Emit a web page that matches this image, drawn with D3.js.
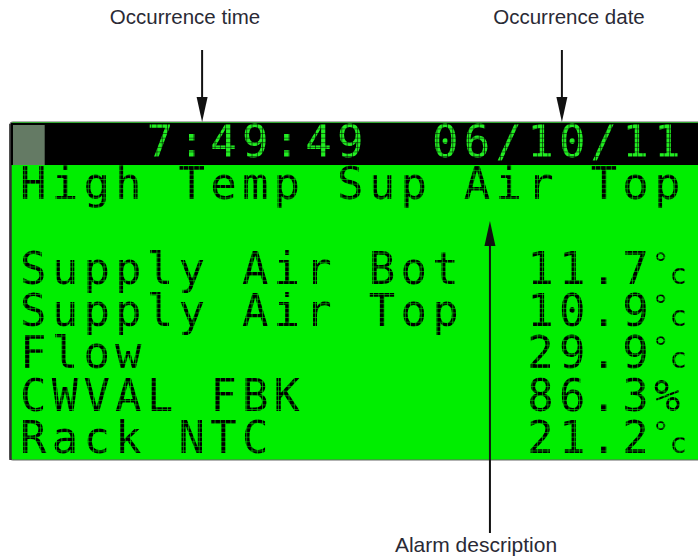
<!DOCTYPE html>
<html>
<head>
<meta charset="utf-8">
<script src="https://cdn.jsdelivr.net/npm/d3@7"></script>
<style>
  html, body { margin: 0; padding: 0; background: #fff; }
  svg { display: block; }
</style>
</head>
<body>
<svg id="chart" width="698" height="558"></svg>
<script>
// display content
const headerTime = "7:49:49";
const headerDate = "06/10/11";
const alarmText = "High Temp Sup Air Top";
const sensorNames = ["Supply Air Bot", "Supply Air Top", "Flow", "CWVAL FBK", "Rack NTC"];
const sensorValues = ["11.7", "10.9", "29.9", "86.3", "21.2"];
const sensorUnits = ["°C", "°C", "°C", "%", "°C"];

// callouts: label and the (fractional) column the arrow points at
const calloutLabels = ["Occurrence time", "Occurrence date", "Alarm description"];
const calloutCols = [5.65, 17.0, 14.73];

var svg = d3.select("#chart");

var lcd = { left: 10, top: 122, bottom: 460, header: 165 };

// 21 visible character columns, 8 text rows
var x = d3.scaleLinear().domain([0, 21]).range([23, 23 + 21 * 31.7]);
var y = d3.scaleLinear().domain([0, 7]).range([157, 453]);

var lcdFont = "'DejaVu Sans Mono', monospace";
var fontSize = 44;
var spacing = (x(1) - x(0)) - 0.602 * fontSize;

// dot-matrix look: mask the glyphs with a fine grid of gaps
var dotW = (x(1) - x(0)) / 6, dotH = 4.6;
var defs = svg.append("defs");
var pat = defs.append("pattern")
  .attr("id", "dots")
  .attr("patternUnits", "userSpaceOnUse")
  .attr("x", x(0) - 3)
  .attr("y", y(0))
  .attr("width", dotW)
  .attr("height", dotH);
pat.append("rect")
  .attr("width", dotW - 0.55)
  .attr("height", dotH - 0.5)
  .attr("fill", "#fff");
defs.append("mask")
  .attr("id", "dotmask")
  .attr("maskUnits", "userSpaceOnUse")
  .attr("x", 0).attr("y", 0).attr("width", 698).attr("height", 558)
  .append("rect")
  .attr("width", 698).attr("height", 558)
  .attr("fill", "url(#dots)");

// panel
svg.append("rect")
  .attr("x", lcd.left)
  .attr("y", lcd.top)
  .attr("width", 698 - lcd.left + 5)
  .attr("height", lcd.bottom - lcd.top)
  .attr("rx", 3)
  .attr("fill", "#00ee00")
  .attr("stroke", "#666")
  .attr("stroke-width", 1.2);

svg.append("line")
  .attr("x1", lcd.left + 0.5).attr("x2", lcd.left + 0.5)
  .attr("y1", lcd.top + 2).attr("y2", lcd.bottom)
  .attr("stroke", "#333")
  .attr("stroke-width", 2.5);

svg.append("rect")
  .attr("x", lcd.left + 1)
  .attr("y", lcd.top + 1)
  .attr("width", 698 - lcd.left)
  .attr("height", lcd.header - lcd.top - 1)
  .attr("fill", "#000");

// cursor block in column 0
svg.append("rect")
  .attr("x", x(0) - 10)
  .attr("y", lcd.top + 3)
  .attr("width", x(1) - x(0))
  .attr("height", lcd.header - lcd.top - 3)
  .attr("fill", "#647a64");

var textLayer = svg.append("g").attr("mask", "url(#dotmask)");

function lcdText(str, col, row, color) {
  return textLayer.append("text")
    .attr("x", x(col) - 3)
    .attr("y", y(row))
    .attr("fill", color)
    .style("font-family", lcdFont)
    .style("font-size", fontSize + "px")
    .style("letter-spacing", spacing + "px")
    .text(str);
}

lcdText(headerTime, 4, 0, "#22ee22");
lcdText(headerDate, 13, 0, "#22ee22");
lcdText(alarmText, 0, 1, "#000");

sensorNames.forEach(function(name, i) {
  var row = i + 3;
  lcdText(name, 0, row, "#000");
  var t = lcdText(null, 16, row, "#000");
  t.append("tspan").text(sensorValues[i]);
  var u = sensorUnits[i];
  if (u === "%") {
    t.append("tspan").text(u);
  } else {
    // degree sign and small c side by side in one character cell
    t.append("tspan")
      .attr("dx", -2)
      .attr("dy", -11)
      .style("font-size", "29px")
      .style("letter-spacing", "0px")
      .text(u.charAt(0));
    t.append("tspan")
      .attr("dy", 11)
      .style("font-size", "29px")
      .style("letter-spacing", "0px")
      .text(u.charAt(1).toLowerCase());
  }
});

// callout arrows
function arrow(ax, y0, y1) {
  var dir = y1 > y0 ? 1 : -1;
  var headLen = 25, headW = 5.5;
  svg.append("line")
    .attr("x1", ax).attr("x2", ax)
    .attr("y1", y0).attr("y2", y1 - dir * headLen)
    .attr("stroke", "#111")
    .attr("stroke-width", 2);
  svg.append("path")
    .attr("d", d3.line()([
      [ax - headW, y1 - dir * headLen],
      [ax + headW, y1 - dir * headLen],
      [ax, y1]
    ]) + "Z")
    .attr("fill", "#111");
}

arrow(x(calloutCols[0]), 50, lcd.top);
arrow(x(calloutCols[1]), 50, lcd.top);
arrow(x(calloutCols[2]), 533, 221);

var labelFont = "'Liberation Sans', Arial, sans-serif";
svg.append("text")
  .attr("x", 185).attr("y", 24)
  .attr("text-anchor", "middle")
  .style("font-family", labelFont).style("font-size", "20.5px")
  .attr("fill", "#2a2a35")
  .text(calloutLabels[0]);
svg.append("text")
  .attr("x", 569).attr("y", 24)
  .attr("text-anchor", "middle")
  .style("font-family", labelFont).style("font-size", "20.5px")
  .attr("fill", "#2a2a35")
  .text(calloutLabels[1]);
svg.append("text")
  .attr("x", 476).attr("y", 552)
  .attr("text-anchor", "middle")
  .style("font-family", labelFont).style("font-size", "21px")
  .attr("fill", "#2a2a35")
  .text(calloutLabels[2]);
</script>
</body>
</html>
